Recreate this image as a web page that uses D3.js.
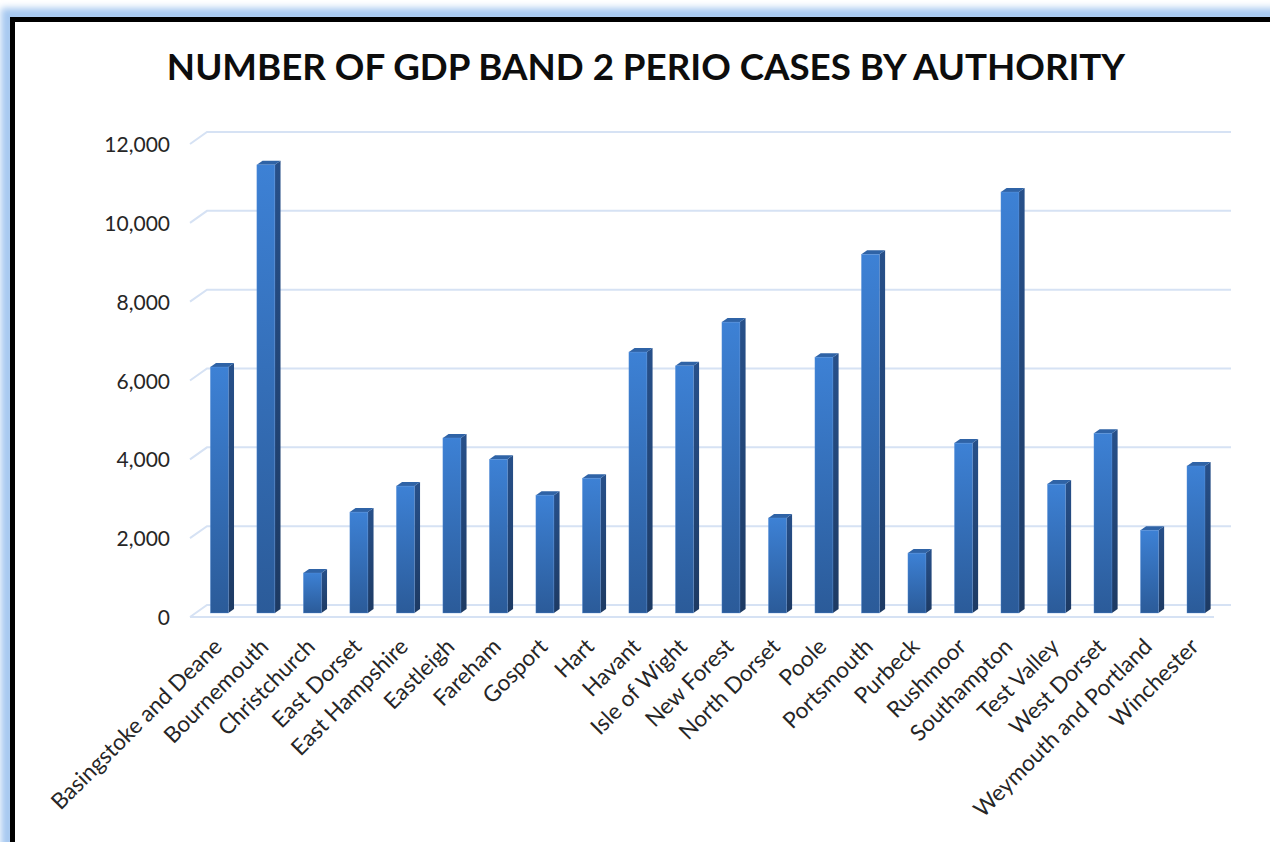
<!DOCTYPE html>
<html>
<head>
<meta charset="utf-8">
<script src="https://cdn.jsdelivr.net/npm/d3@7"></script>
<style>
  body { margin: 0; background: #ffffff; }
  svg { display: block; }
</style>
</head>
<body>
<svg id="chart" width="1270" height="842"></svg>
<script>
// Local authorities and their GDP band 2 periodontal case counts
const categories = [
  "Basingstoke and Deane", "Bournemouth", "Christchurch", "East Dorset",
  "East Hampshire", "Eastleigh", "Fareham", "Gosport", "Hart", "Havant",
  "Isle of Wight", "New Forest", "North Dorset", "Poole", "Portsmouth",
  "Purbeck", "Rushmoor", "Southampton", "Test Valley", "West Dorset",
  "Weymouth and Portland", "Winchester"
];
const cases = [
  6240, 11370, 1015, 2560, 3220, 4440, 3900, 2990, 3420, 6620,
  6270, 7380, 2410, 6490, 9100, 1520, 4310, 10680, 3270, 4560,
  2100, 3730
];
const yTicks = [0, 2000, 4000, 6000, 8000, 10000, 12000];
const titleText = "NUMBER OF GDP BAND 2 PERIO CASES BY AUTHORITY";

const svg = d3.select("#chart");
const defs = svg.append("defs");

// ---- outer frame with soft blue glow ----
const glow = defs.append("filter").attr("id", "glow")
  .attr("x", "-5%").attr("y", "-5%").attr("width", "110%").attr("height", "110%");
glow.append("feGaussianBlur").attr("stdDeviation", 3.5);

svg.append("rect")
  .attr("x", 8).attr("y", 15).attr("width", 1400).attr("height", 1000)
  .attr("fill", "none").attr("stroke", "#a6c8f0").attr("stroke-width", 14)
  .attr("filter", "url(#glow)");
svg.append("rect")
  .attr("x", 12.5).attr("y", 19.5).attr("width", 1400).attr("height", 1000)
  .attr("fill", "#ffffff").attr("stroke", "#000000").attr("stroke-width", 5);

// ---- plot geometry (front plane of the 3D box) ----
const plotLeft = 190, plotWidth = 1024;
const depthX = 17, depthY = 12;          // offset from front plane to back wall
const zFront = 1 / 3, zBack = 2 / 3;     // column depth within the box

const y = d3.scaleLinear().domain([0, 12000]).range([617, 144]);
const x = d3.scaleBand().domain(categories).range([0, plotWidth])
  .paddingInner(0.613).paddingOuter(0.316);

const fontFamily = "Lato, 'Open Sans', sans-serif";

// ---- gridlines on side and back walls ----
const grid = svg.append("g").attr("stroke", "#d6e2f4").attr("stroke-width", 2)
  .attr("fill", "none");
yTicks.forEach(t => {
  const yf = y(t), yb = y(t) - depthY;
  grid.append("path")
    .attr("d", `M${plotLeft},${yf}L${plotLeft + depthX},${yb}L${plotLeft + plotWidth + depthX},${yb}`);
});
// floor front edge
grid.append("line")
  .attr("x1", plotLeft).attr("x2", plotLeft + plotWidth)
  .attr("y1", y(0)).attr("y2", y(0));

// ---- y axis labels ----
const yAxis = d3.axisLeft(y).tickValues(yTicks).tickFormat(d3.format(",")).tickSize(0).tickPadding(0);
const yAxisG = svg.append("g").attr("transform", "translate(170,0)").call(yAxis);
yAxisG.select(".domain").remove();
yAxisG.selectAll("text")
  .attr("font-family", fontFamily).attr("font-size", 21).attr("fill", "#262626")
  .attr("dy", "0.36em");

// ---- 3D columns ----
const frontGrad = defs.append("linearGradient").attr("id", "frontGrad")
  .attr("x1", 0).attr("y1", 0).attr("x2", 0).attr("y2", 1);
frontGrad.append("stop").attr("offset", 0).attr("stop-color", "#3d81d5");
frontGrad.append("stop").attr("offset", 1).attr("stop-color", "#2b5b99");
const sideGrad = defs.append("linearGradient").attr("id", "sideGrad")
  .attr("x1", 0).attr("y1", 0).attr("x2", 0).attr("y2", 1);
sideGrad.append("stop").attr("offset", 0).attr("stop-color", "#27508a");
sideGrad.append("stop").attr("offset", 1).attr("stop-color", "#1d3a63");

const dxBar = depthX * (zBack - zFront);
const dyBar = depthY * (zBack - zFront);
const bw = x.bandwidth();

const bars = svg.append("g").selectAll("g.bar")
  .data(categories.map((c, i) => ({ c, v: cases[i] })))
  .join("g").attr("class", "bar");

bars.each(function (d) {
  const g = d3.select(this);
  const x0 = plotLeft + x(d.c) + depthX * zFront;
  const top = y(d.v) - depthY * zFront;
  const bot = y(0) - depthY * zFront;
  // side face
  g.append("path")
    .attr("d", `M${x0 + bw},${top}L${x0 + bw + dxBar},${top - dyBar}L${x0 + bw + dxBar},${bot - dyBar}L${x0 + bw},${bot}Z`)
    .attr("fill", "url(#sideGrad)");
  // top face
  g.append("path")
    .attr("d", `M${x0},${top}L${x0 + dxBar},${top - dyBar}L${x0 + bw + dxBar},${top - dyBar}L${x0 + bw},${top}Z`)
    .attr("fill", "#2f63a6");
  // front face
  g.append("rect")
    .attr("x", x0).attr("y", top).attr("width", bw).attr("height", bot - top)
    .attr("fill", "url(#frontGrad)")
    .attr("stroke", "#5b93da").attr("stroke-width", 0.6).attr("stroke-opacity", 0.6);
});

// ---- category labels (rotated) ----
svg.append("g").selectAll("text")
  .data(categories)
  .join("text")
  .attr("transform", d => {
    const cx = plotLeft + x(d) + depthX * zFront + bw / 2 + 4;
    return `translate(${cx},648) rotate(-45)`;
  })
  .attr("text-anchor", "end")
  .attr("font-family", fontFamily).attr("font-size", 22.5).attr("fill", "#262626")
  .text(d => d);

// ---- title ----
svg.append("text")
  .attr("x", 646).attr("y", 80)
  .attr("text-anchor", "middle")
  .attr("font-family", "Lato, 'Open Sans', sans-serif")
  .attr("font-weight", 700).attr("font-size", 36.7).attr("fill", "#0d0d0d")
  .text(titleText);
</script>
</body>
</html>
